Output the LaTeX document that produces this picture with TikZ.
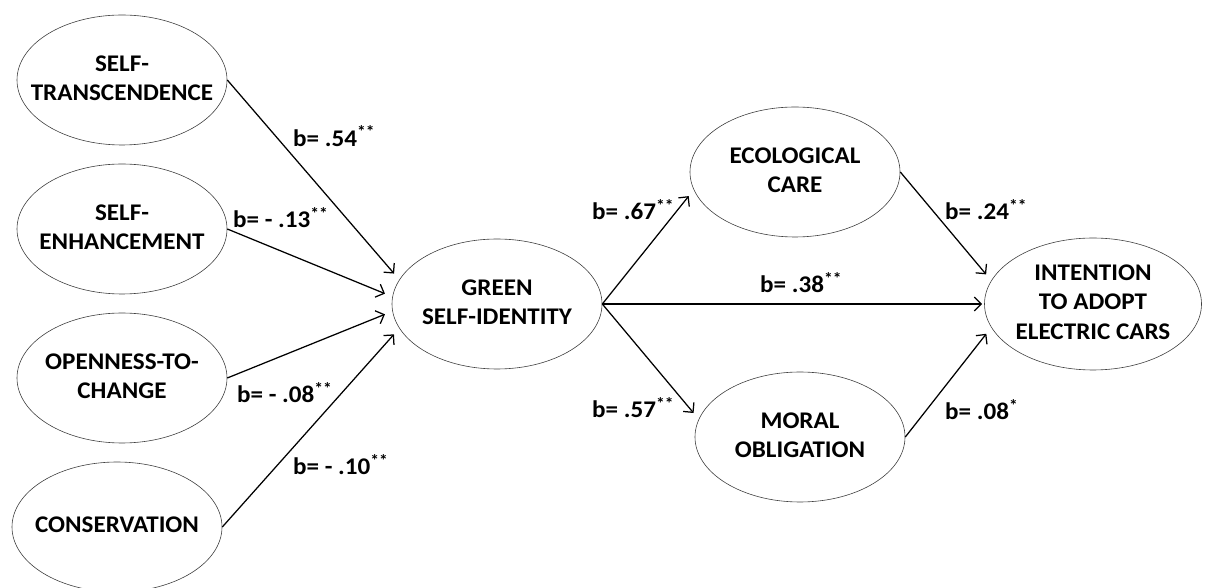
\documentclass[tikz,border=0pt]{standalone}
\usepackage{fontspec}
\setmainfont{Carlito}[FakeStretch=1.05]
\usetikzlibrary{arrows.meta}
\usetikzlibrary{shapes.geometric}
\newcommand{\ovtext}[1]{\makebox[0pt]{\raisebox{-4bp}{\begin{tabular}{@{}c@{}}#1\end{tabular}}}}

\begin{document}
\begin{tikzpicture}[>={Straight Barb[length=7bp,width=14bp]},line join=bevel,
  latent/.style={ellipse,draw=black!75,line width=0.6bp,minimum width=210bp,minimum height=130bp,inner sep=0pt,font=\bfseries\fontsize{24}{30}\selectfont},
  coef/.style={anchor=base west,inner sep=0pt,font=\bfseries\fontsize{24}{28}\selectfont},
  regpath/.style={black,line width=1.25bp,->,shorten >=8bp}]
%%
\useasboundingbox (0bp,0bp) rectangle (1205bp,588bp);
\node (node_st) at (122bp,508bp) [latent] {\ovtext{SELF-\\TRANSCENDENCE}};
  \node (node_se) at (122bp,359bp) [latent] {\ovtext{SELF-\\ENHANCEMENT}};
  \node (node_oc) at (122bp,210bp) [latent] {\ovtext{OPENNESS-TO-\\CHANGE}};
  \node (node_co) at (117bp,61bp) [latent] {\ovtext{CONSERVATION}};
  \node (node_gsi) at (497bp,284bp) [latent] {\ovtext{GREEN\\SELF-IDENTITY}};
  \node (node_eco) at (795bp,416bp) [latent] {\ovtext{ECOLOGICAL\\CARE}};
  \node (node_mo) at (800bp,151bp) [latent] {\ovtext{MORAL\\OBLIGATION}};
  \node (node_int) at (1093bp,284bp) [latent,minimum width=217bp,minimum height=132bp] {\ovtext{INTENTION\\TO ADOPT\\ELECTRIC CARS}};
%
  \draw [regpath] (node_st.east) -- (node_gsi.166);
  \draw [regpath] (node_se.east) -- (node_gsi.176);
  \draw [regpath] (node_oc.east) -- (node_gsi.184);
  \draw [regpath] (node_co.east) -- (node_gsi.194);
  \draw [regpath] (node_gsi.east) -- (node_eco.190);
  \draw [regpath,shorten >=2bp] (node_gsi.east) -- (node_int.west);
  \draw [regpath] (node_gsi.east) -- (node_mo.170);
  \draw [regpath] (node_eco.east) -- (node_int.167);
  \draw [regpath] (node_mo.east) -- (node_int.193);
%
\node (lab_st) at (293bp,441bp) [coef] {b= .54\textsuperscript{**}};
  \node (lab_se) at (233bp,360bp) [coef] {b= - .13\textsuperscript{**}};
  \node (lab_oc) at (237bp,185bp) [coef] {b= - .08\textsuperscript{**}};
  \node (lab_co) at (293bp,113bp) [coef] {b= - .10\textsuperscript{**}};
  \node (lab_eco) at (592bp,368bp) [coef] {b= .67\textsuperscript{**}};
  \node (lab_mo) at (592bp,170bp) [coef] {b= .57\textsuperscript{**}};
  \node (lab_int) at (760bp,295bp) [coef] {b= .38\textsuperscript{**}};
  \node (lab_ei) at (945bp,368bp) [coef] {b= .24\textsuperscript{**}};
  \node (lab_mi) at (945bp,168bp) [coef] {b= .08\textsuperscript{*}};
%
\end{tikzpicture}
\end{document}
